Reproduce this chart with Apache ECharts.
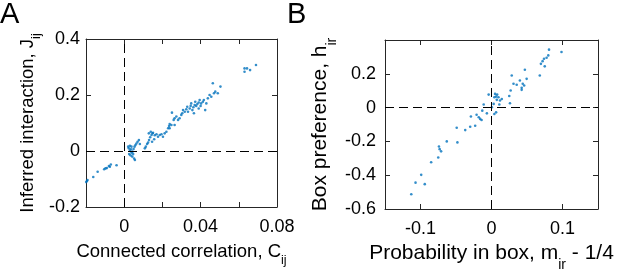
<!DOCTYPE html>
<html>
<head>
<meta charset="utf-8">
<script src="https://cdn.jsdelivr.net/npm/echarts@6/dist/echarts.min.js"></script>
<style>
html, body { margin: 0; padding: 0; background: #fff; }
#chart { width: 617px; height: 271px; }
</style>
</head>
<body>
<div id="chart"></div>
<script>
// ---- panel A: connected correlation vs inferred interaction ----
var corrC = [
    -0.0199, -0.0195, -0.0192, -0.0162, -0.0139, -0.0105, -0.0098, -0.0091, -0.008, -0.007, -0.0075, -0.004,
    0.0021, 0.0024, 0.0030, 0.0035, 0.0038, 0.0026, 0.0033, 0.0042, 0.0047, 0.0052, 0.0056, 0.0043, 0.0049,
    0.0054, 0.0059, 0.0064, 0.0070, 0.0077, 0.0082, 0.0038, 0.0030,
    0.0108, 0.0113, 0.0120, 0.0125, 0.0130, 0.0136, 0.0143, 0.0148, 0.0129, 0.0139, 0.0151, 0.0160, 0.0169,
    0.0177, 0.0186, 0.0195, 0.0203, 0.0212, 0.0221, 0.0146, 0.0157,
    0.0230, 0.0235, 0.0238, 0.0247, 0.0250, 0.0259, 0.0264, 0.0273, 0.0282, 0.0290, 0.0299, 0.0304, 0.0308,
    0.0317, 0.0264, 0.0238,
    0.0325, 0.0330, 0.0334, 0.0343, 0.0348, 0.0351, 0.0357, 0.0362, 0.0369, 0.0372, 0.0377, 0.0383, 0.0390,
    0.0395, 0.0400, 0.0403, 0.0412, 0.0417, 0.0424, 0.0430, 0.0390, 0.0365,
    0.0438, 0.0447, 0.0456, 0.0464, 0.0470, 0.0477, 0.0490, 0.0504,
    0.0630, 0.0630, 0.0643, 0.0659, 0.0690
];
var interJ = [
    -0.111, -0.107, -0.104, -0.093, -0.074, -0.065, -0.062, -0.061, -0.054, -0.048, -0.056, -0.051,
    0.0155, 0.0095, 0.0012, 0.006, -0.006, -0.011, -0.0155, -0.020, -0.011, -0.027, -0.032, -0.0024, 0.007,
    0.0155, 0.021, 0.027, 0.033, 0.039, 0.025, 0.0155, 0.019,
    0.0095, 0.0155, 0.025, 0.030, 0.039, 0.049, 0.057, 0.063, 0.063, 0.069, 0.065, 0.056, 0.060,
    0.051, 0.057, 0.060, 0.051, 0.063, 0.069, 0.033, 0.042,
    0.081, 0.089, 0.096, 0.093, 0.137, 0.111, 0.117, 0.123, 0.111, 0.117, 0.129, 0.135, 0.146,
    0.140, 0.093, 0.081,
    0.149, 0.158, 0.140, 0.152, 0.161, 0.170, 0.146, 0.156, 0.164, 0.176, 0.161, 0.168, 0.173,
    0.182, 0.161, 0.170, 0.176, 0.182, 0.146, 0.170, 0.152, 0.135,
    0.188, 0.200, 0.194, 0.242, 0.206, 0.212, 0.206, 0.230,
    0.283, 0.295, 0.295, 0.289, 0.307
];

// ---- panel B: probability in box vs box preference ----
var probM = [
    -0.113, -0.107, -0.099, -0.094, -0.085, -0.075, -0.074, -0.073, -0.071, -0.063, -0.049, -0.048,
    -0.037, -0.030, -0.029, -0.023, -0.021, -0.018, -0.016, -0.014, -0.013, -0.011, -0.0065, -0.004,
    0.0005, 0.003, 0.004, 0.004, 0.005, 0.0065, 0.0065, 0.0075, 0.008, 0.0098, 0.011, 0.0145, 0.012,
    0.025, 0.026, 0.027, 0.0285, 0.031, 0.0355, 0.040, 0.0425, 0.044, 0.046, 0.047, 0.0495, 0.0425,
    0.068, 0.0696, 0.072, 0.074, 0.075, 0.0776, 0.080, 0.081, 0.0986
];
var prefH = [
    -0.513, -0.444, -0.398, -0.453, -0.323, -0.295, -0.230, -0.246, -0.259, -0.200, -0.119, -0.206,
    -0.133, -0.113, -0.053, -0.107, -0.042, -0.057, -0.067, -0.073, -0.018, 0.018, -0.034, 0.077,
    0.002, 0.022, 0.061, -0.038, 0.081, 0.065, -0.028, 0.046, 0.077, 0.061, 0.018, 0.051, 0.042,
    0.069, 0.026, 0.101, 0.190, 0.141, 0.135, 0.160, 0.117, 0.141, 0.131, 0.224, 0.170, 0.105,
    0.190, 0.259, 0.275, 0.289, 0.244, 0.295, 0.309, 0.343, 0.329
];

// ticks / labels
var aXTicks = [0, 0.02, 0.04, 0.06, 0.08];
var aXLabels = [0, 0.04, 0.08];
var aYTicks = [-0.2, 0, 0.2, 0.4];
var bXTicks = [-0.1, 0, 0.1];
var bYTicks = [-0.6, -0.4, -0.2, 0, 0.2, 0.4];
var bYLabels = [-0.6, -0.4, -0.2, 0, 0.2];

var font = 'Liberation Sans, Arial, Helvetica, sans-serif';
var axisColor = '#262626';
var dotColor = '#0072BD';

function zip(xs, ys) {
    return xs.map(function (x, i) { return [x, ys[i]]; });
}

function fmt(v) {
    return String(+(+v).toFixed(4));
}

// main text + deep (matlab style) subscript
function nameStyle(size, subSize, subLine) {
    return {
        color: '#000',
        fontFamily: font,
        rich: {
            m: { fontSize: size, fontFamily: font, color: '#000', lineHeight: size + 0.5, verticalAlign: 'top' },
            s: { fontSize: subSize, fontFamily: font, color: '#000', lineHeight: subLine, verticalAlign: 'bottom' }
        }
    };
}
var styleA = nameStyle(18.5, 12.5, 25);
var styleB = nameStyle(21, 14, 29.5);

function makeAxis(kind, grid, pos, min, max, ticks, labels, name, gap, margin, nstyle) {
    var ax = {
        type: 'value',
        gridIndex: grid,
        position: pos,
        min: min,
        max: max,
        splitLine: { show: false },
        axisLine: { show: true, onZero: false, lineStyle: { color: axisColor, width: 1 } },
        axisTick: { show: true, inside: true, length: 5, customValues: ticks, lineStyle: { color: axisColor, width: 1 } },
        axisLabel: { show: false }
    };
    if (labels) {
        ax.axisLabel = {
            show: true,
            customValues: labels,
            margin: margin,
            fontSize: 18,
            color: '#000',
            fontFamily: font,
            formatter: fmt
        };
        ax.name = name;
        ax.nameLocation = 'middle';
        ax.nameGap = gap;
        ax.nameTextStyle = nstyle;
    }
    return ax;
}

var dashLines = {
    silent: true,
    symbol: 'none',
    label: { show: false },
    lineStyle: { color: '#000', type: [9, 5], width: 1 },
    data: [{ xAxis: 0 }, { yAxis: 0 }]
};

var chart = echarts.init(document.getElementById('chart'));

var option = {
    animation: false,
    backgroundColor: '#fff',
    grid: [
        { left: 86, top: 39, width: 191, height: 168, containLabel: false, outerBoundsMode: 'none' },
        { left: 385, top: 40, width: 213, height: 169, containLabel: false, outerBoundsMode: 'none' }
    ],
    xAxis: [
        makeAxis('x', 0, 'bottom', -0.02, 0.08, aXTicks, aXLabels, '{m|Connected correlation, C}{s|ij}', 35, 11, styleA),
        makeAxis('x', 0, 'top', -0.02, 0.08, aXTicks),
        makeAxis('x', 1, 'bottom', -0.15, 0.15, bXTicks, bXTicks, '{m|Probability in box, m}{s|ir}{m| - 1/4}', 32.5, 11, styleB),
        makeAxis('x', 1, 'top', -0.15, 0.15, bXTicks)
    ],
    yAxis: [
        makeAxis('y', 0, 'left', -0.2, 0.4, aYTicks, aYTicks, '{m|Inferred interaction, J}{s|ij}', 43, 6, styleA),
        makeAxis('y', 0, 'right', -0.2, 0.4, aYTicks),
        makeAxis('y', 1, 'left', -0.6, 0.4, bYTicks, bYLabels, '{m|Box preference, h}{s|ir}', 45.5, 9, styleB),
        makeAxis('y', 1, 'right', -0.6, 0.4, bYTicks)
    ],
    graphic: [
        { type: 'text', left: 0, top: 0, style: { text: 'A', fontSize: 29, fontFamily: font, fill: '#000' } },
        { type: 'text', left: 287, top: 0, style: { text: 'B', fontSize: 29, fontFamily: font, fill: '#000' } }
    ],
    series: [
        {
            type: 'scatter',
            xAxisIndex: 0,
            yAxisIndex: 0,
            symbolSize: 2.6,
            itemStyle: { color: dotColor },
            data: zip(corrC, interJ),
            markLine: dashLines
        },
        {
            type: 'scatter',
            xAxisIndex: 2,
            yAxisIndex: 2,
            symbolSize: 2.6,
            itemStyle: { color: dotColor },
            data: zip(probM, prefH),
            markLine: dashLines
        }
    ]
};

chart.setOption(option);
</script>
</body>
</html>
